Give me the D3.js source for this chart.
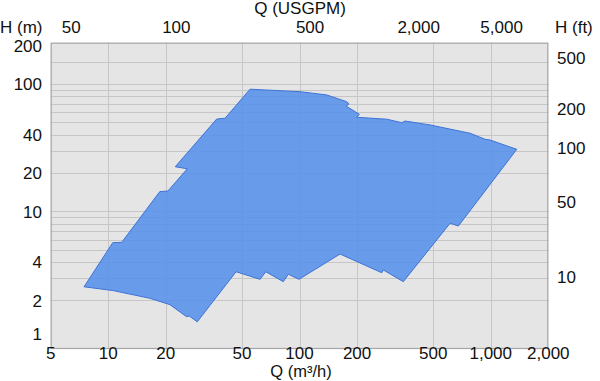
<!DOCTYPE html>
<html><head><meta charset="utf-8">
<script src="https://cdn.jsdelivr.net/npm/d3@7"></script>
<style>
html,body{margin:0;padding:0;background:#fff;}
text{font-family:"Liberation Sans",Arial,Helvetica,sans-serif;fill:#111;}
</style></head>
<body>
<svg id="c" width="600" height="381"></svg>
<script>
// ---- data ----
const xTicks = [5, 10, 20, 50, 100, 200, 500, 1000, 2000];
const xGrid = [10, 20, 50, 100, 200, 500, 1000];
const yTicks = [200, 100, 40, 20, 10, 4, 2, 1];
const yGrid = [150, 100, 90, 80, 70, 60, 50, 40, 30, 20, 10, 9, 8, 7, 6, 5, 4, 3, 2];
const usgpmLabels = ["50", "100", "500", "2,000", "5,000"];
const usgpmAtQ = [6.4, 22.7, 113.6, 420, 1140];      // m3/h where each USGPM label sits
const ftLabels = ["500", "200", "100", "50", "10"];
const ftAtH = [160, 64, 31.5, 11.9, 3.07];            // m where each ft label sits
// performance envelope (Q m3/h, H m)
const envelopeQ = [7.47, 10.55, 11.76, 18.6, 20.5, 25.9, 22.4, 36.9, 40.8, 55.1,
  100.7, 138.8, 176.6, 181.6, 175.2, 205.6, 199.2, 286, 342.6, 356.5, 481.4, 779.8, 934, 992.6, 1368,
  677.4, 613, 349, 274.5, 269.3, 163, 99.4, 87.4, 82.3, 66.6, 62.2, 46.6,
  29.2, 26.5, 25.7, 21.0, 16.5, 10.6];
const envelopeH = [2.56, 5.68, 5.72, 14.3, 14.45, 21.6, 22.4, 53.1, 53.8, 91,
  87, 82, 72.6, 69.7, 67.1, 57.8, 54.8, 52.9, 49.7, 51.2, 47.7, 41.05, 36.8, 36.3, 30.7,
  7.68, 8.07, 2.81, 3.47, 3.30, 4.63, 2.93, 3.21, 2.81, 3.36, 2.93, 3.36,
  1.36, 1.51, 1.49, 1.855, 2.08, 2.39];

// ---- layout ----
const L = 50.7, R = 548.3, T = 42.7, B = 349;
const svg = d3.select("#c");
const x = d3.scaleLog().domain([5, 2000]).range([L, R]);
const y = d3.scaleLog().domain([0.832, 210.8]).range([B, T]);
const fmt = d3.format(",");

svg.append("rect").attr("x", L).attr("y", T).attr("width", R - L).attr("height", B - T)
  .attr("fill", "#e5e5e5");

const g = svg.append("g");
g.selectAll("line.h").data(yGrid).join("line").attr("class", "h")
  .attr("x1", L).attr("x2", R)
  .attr("y1", d => Math.round(y(d)) + 0.5).attr("y2", d => Math.round(y(d)) + 0.5)
  .attr("stroke", "#c6c6c6").attr("stroke-width", 1);
g.selectAll("line.v").data(xGrid).join("line").attr("class", "v")
  .attr("y1", T).attr("y2", B)
  .attr("x1", d => Math.round(x(d)) + 0.5).attr("x2", d => Math.round(x(d)) + 0.5)
  .attr("stroke", "#c6c6c6").attr("stroke-width", 1);

const pts = envelopeQ.map((q, i) => [x(q), y(envelopeH[i])]);
svg.append("path").attr("d", d3.line().curve(d3.curveLinear)(pts) + "Z")
  .attr("fill", "rgb(84,142,236)").attr("fill-opacity", 0.85)
  .attr("stroke", "#3d73d6").attr("stroke-width", 1).attr("stroke-linejoin", "round");

svg.append("rect").attr("x", L + 0.5).attr("y", T + 0.5).attr("width", R - L - 1).attr("height", B - T - 1)
  .attr("fill", "none").attr("stroke", "#a6a6a6").attr("stroke-width", 1.2);

const fs = 17;
// bottom axis labels
svg.selectAll("text.xt").data(xTicks).join("text").attr("class", "xt")
  .attr("x", d => x(d)).attr("y", 359).attr("text-anchor", "middle")
  .attr("font-size", fs).text(d => fmt(d));
svg.append("text").attr("x", 301).attr("y", 377).attr("text-anchor", "middle")
  .attr("font-size", 16.5).text("Q (m³/h)");

// left axis labels
svg.selectAll("text.yt").data(yTicks).join("text").attr("class", "yt")
  .attr("x", 42).attr("y", d => Math.min(y(d), 334)).attr("dy", "0.36em").attr("text-anchor", "end")
  .attr("font-size", fs).text(d => d);
svg.append("text").attr("x", 0).attr("y", 33).attr("font-size", fs).text("H (m)");

// right axis labels
svg.selectAll("text.ft").data(ftLabels).join("text").attr("class", "ft")
  .attr("x", 557).attr("y", (d, i) => y(ftAtH[i])).attr("dy", "0.36em")
  .attr("font-size", fs).text(d => d);
svg.append("text").attr("x", 555).attr("y", 33).attr("font-size", fs).text("H (ft)");

// top axis labels
svg.selectAll("text.ut").data(usgpmLabels).join("text").attr("class", "ut")
  .attr("x", (d, i) => x(usgpmAtQ[i])).attr("y", 33).attr("text-anchor", "middle")
  .attr("font-size", fs).text(d => d);
svg.append("text").attr("x", 300).attr("y", 14).attr("text-anchor", "middle")
  .attr("font-size", fs).text("Q (USGPM)");
</script>
</body></html>
